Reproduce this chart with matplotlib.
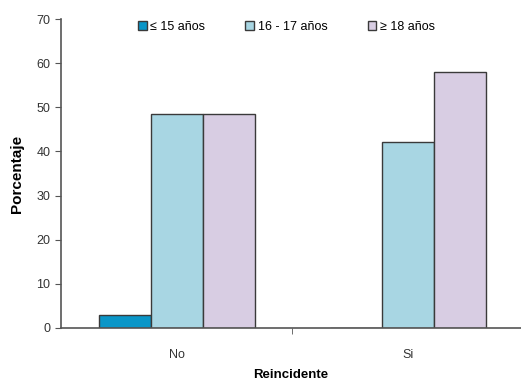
import matplotlib.pyplot as plt
import numpy as np

plt.rcParams['font.family'] = ['Liberation Sans Narrow', 'Liberation Sans', 'DejaVu Sans']

# datos
categorias = ['No', 'Si']
grupos = ['≤ 15 años', '16 - 17 años', '≥ 18 años']
menor_15 = [3.0, 0.0]
de_16_17 = [48.5, 42.1]
mayor_18 = [48.5, 57.9]

colores = ['#0a96c8', '#a8d6e3', '#d8cde3']
borde = '#3a3a3a'

fig = plt.figure(figsize=(5.21, 3.80), dpi=100)
ax = fig.add_axes([0.117, 0.137, 0.883, 0.813])

x = np.arange(len(categorias))
ancho = 0.2246
for i, (valores, color, nombre) in enumerate(zip([menor_15, de_16_17, mayor_18], colores, grupos)):
    ax.bar(x + (i - 1) * ancho, valores, ancho, color=color, edgecolor=borde,
           linewidth=1.0, label=nombre)

ax.set_xlim(-0.5, 1.487)
ax.set_ylim(0, 70)
ax.set_yticks(range(0, 71, 10))
ax.set_xticks(x)
ax.set_xticklabels(categorias, fontsize=9, color='#333333')
ax.set_xticks([0.5], minor=True)
ax.tick_params(axis='x', which='major', length=0, pad=15)
ax.tick_params(axis='x', which='minor', length=4, color='#555555')
ax.tick_params(axis='y', length=4, color='#555555', labelsize=9, labelcolor='#333333')

for lado in ['top', 'right']:
    ax.spines[lado].set_visible(False)
for lado in ['left', 'bottom']:
    ax.spines[lado].set_color('#555555')
    ax.spines[lado].set_linewidth(1.2)

ax.set_ylabel('Porcentaje', fontsize=11, fontweight='bold', labelpad=9)
ax.set_xlabel('Reincidente', fontsize=9.5, fontweight='bold', labelpad=6)

fig.legend(loc='center', bbox_to_anchor=(0.55, 0.93), ncol=3, frameon=False,
           fontsize=9, handlelength=0.7, handleheight=0.7, handletextpad=0.3,
           columnspacing=3.2)

plt.savefig('out.png', dpi=100)
